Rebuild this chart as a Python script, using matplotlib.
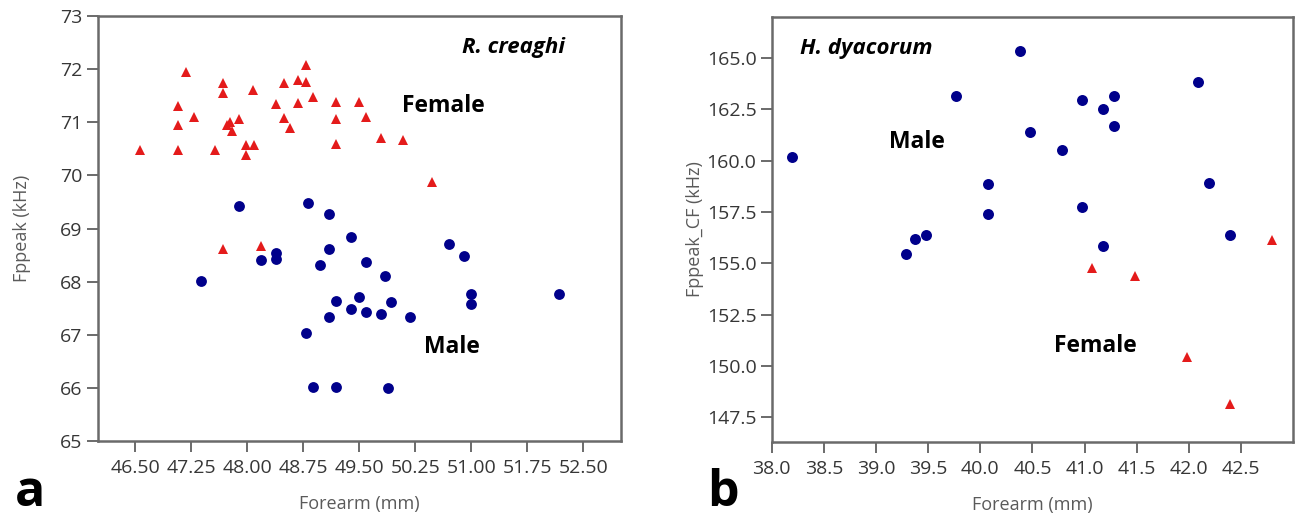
import matplotlib
matplotlib.use("Agg")
import matplotlib.pyplot as plt

# ---------------- Panel a: R. creaghi ----------------
a_female_x = [46.56, 47.18, 47.07, 47.07, 47.07, 47.28, 47.57, 47.68, 47.68, 47.77,
              47.73, 47.89, 47.79, 47.98, 48.09, 47.98, 48.08, 48.39, 48.49, 48.68,
              48.49, 48.57, 48.68, 48.78, 48.79, 48.88, 49.19, 49.19, 49.19, 49.49,
              49.59, 49.79, 50.08, 50.48, 47.67, 48.18]
a_female_y = [70.47, 71.95, 71.30, 70.95, 70.47, 71.10, 70.47, 71.74, 71.56, 71.00,
              70.95, 71.07, 70.84, 70.58, 70.58, 70.39, 71.61, 71.35, 71.74, 71.36,
              71.08, 70.89, 71.79, 71.76, 72.07, 71.48, 71.38, 71.06, 70.59, 71.38,
              71.10, 70.70, 70.67, 69.87, 68.61, 68.67]
a_male_x = [47.89, 48.81, 49.09, 49.39, 49.10, 48.18, 48.39, 48.39, 48.98, 49.59,
            49.85, 47.38, 50.70, 50.90, 51.00, 51.00, 52.17, 49.19, 49.49, 49.39,
            49.59, 49.79, 49.92, 50.18, 49.09, 48.78, 48.88, 49.19, 49.89]
a_male_y = [69.42, 69.48, 69.27, 68.84, 68.61, 68.40, 68.54, 68.42, 68.31, 68.37,
            68.10, 68.02, 68.71, 68.49, 67.77, 67.57, 67.76, 67.63, 67.71, 67.49,
            67.42, 67.40, 67.62, 67.33, 67.34, 67.04, 66.01, 66.02, 65.99]
a_xticks = [46.50, 47.25, 48.00, 48.75, 49.50, 50.25, 51.00, 51.75, 52.50]
a_xticklabels = ["46.50", "47.25", "48.00", "48.75", "49.50", "50.25", "51.00", "51.75", "52.50"]
a_yticks = [65, 66, 67, 68, 69, 70, 71, 72, 73]

# ---------------- Panel b: H. dyacorum ----------------
b_male_x = [38.19, 39.29, 39.37, 39.48, 39.77, 40.07, 40.07, 40.38, 40.48, 40.78,
            40.98, 40.98, 41.18, 41.28, 41.28, 41.18, 42.09, 42.19, 42.40]
b_male_y = [160.20, 155.46, 156.20, 156.37, 163.16, 158.88, 157.40, 165.36, 161.42, 160.53,
            162.94, 157.76, 162.50, 163.16, 161.71, 155.87, 163.81, 158.92, 156.37]
b_female_x = [41.07, 41.48, 41.98, 42.40, 42.80]
b_female_y = [154.77, 154.39, 150.45, 148.15, 156.12]
b_xticks = [38.0, 38.5, 39.0, 39.5, 40.0, 40.5, 41.0, 41.5, 42.0, 42.5]
b_yticks = [147.5, 150.0, 152.5, 155.0, 157.5, 160.0, 162.5, 165.0]

FONT = ["Open Sans", "DejaVu Sans"]
plt.rcParams["font.family"] = FONT

NAVY = "#00008b"
RED = "#e41b1b"
SPINE = "#6a6a6a"
TICKLAB = "#363636"
AXLAB = "#5a5a5a"

fig = plt.figure(figsize=(12.96, 5.2), dpi=100)
ax1 = fig.add_axes([0.0756, 0.1519, 0.4032, 0.8173])
ax2 = fig.add_axes([0.5955, 0.1500, 0.4022, 0.8173])


def style(ax):
    for s in ax.spines.values():
        s.set_color(SPINE)
        s.set_linewidth(1.8)
    ax.tick_params(axis="both", direction="out", length=8, width=1.4,
                   color=SPINE, labelcolor=TICKLAB, labelsize=14)
    ax.tick_params(axis="x", pad=5)
    ax.tick_params(axis="y", pad=3)


# Panel a
ax1.plot(a_male_x, a_male_y, linestyle="none", marker="o", markersize=7.8,
         color=NAVY, markeredgewidth=0)
ax1.plot(a_female_x, a_female_y, linestyle="none", marker="^", markersize=7,
         color=RED, markeredgewidth=0)
ax1.set_xlim(46.0, 53.0)
ax1.set_ylim(65, 73)
ax1.set_xticks(a_xticks)
ax1.set_xticklabels(a_xticklabels)
ax1.set_yticks(a_yticks)
style(ax1)
ax1.set_xlabel("Forearm (mm)", fontsize=13, color=AXLAB, labelpad=13)
ax1.set_ylabel("Fppeak (kHz)", fontsize=13, color=AXLAB, labelpad=21)
ax1.text(50.87, 72.40, "R. creaghi", fontsize=16, fontweight="bold",
         fontstyle="italic", ha="left", va="center", color="black")
ax1.text(50.07, 71.31, "Female", fontsize=16.5, fontweight="bold",
         ha="left", va="center", color="black")
ax1.text(50.37, 66.77, "Male", fontsize=16.5, fontweight="bold",
         ha="left", va="center", color="black")

# Panel b
ax2.plot(b_male_x, b_male_y, linestyle="none", marker="o", markersize=7.9,
         color=NAVY, markeredgewidth=0)
ax2.plot(b_female_x, b_female_y, linestyle="none", marker="^", markersize=7,
         color=RED, markeredgewidth=0)
ax2.set_xlim(38.0, 43.0)
ax2.set_ylim(146.3, 167.0)
ax2.set_xticks(b_xticks)
ax2.set_xticklabels([f"{v:.1f}" for v in b_xticks])
ax2.set_yticks(b_yticks)
ax2.set_yticklabels([f"{v:.1f}" for v in b_yticks])
style(ax2)
ax2.set_xlabel("Forearm (mm)", fontsize=13, color=AXLAB, labelpad=13)
ax2.set_ylabel("Fppeak_CF (kHz)", fontsize=13, color=AXLAB, labelpad=2)
ax2.text(38.27, 165.49, "H. dyacorum", fontsize=16, fontweight="bold",
         fontstyle="italic", ha="left", va="center", color="black")
ax2.text(39.12, 160.92, "Male", fontsize=16.5, fontweight="bold",
         ha="left", va="center", color="black")
ax2.text(40.71, 150.97, "Female", fontsize=16.5, fontweight="bold",
         ha="left", va="center", color="black")

# Panel letters
fig.text(0.0116, 0.027, "a", fontsize=36, fontweight="bold", color="black",
         ha="left", va="baseline")
fig.text(0.546, 0.027, "b", fontsize=36, fontweight="bold", color="black",
         ha="left", va="baseline")

fig.savefig("out.png", dpi=100)
